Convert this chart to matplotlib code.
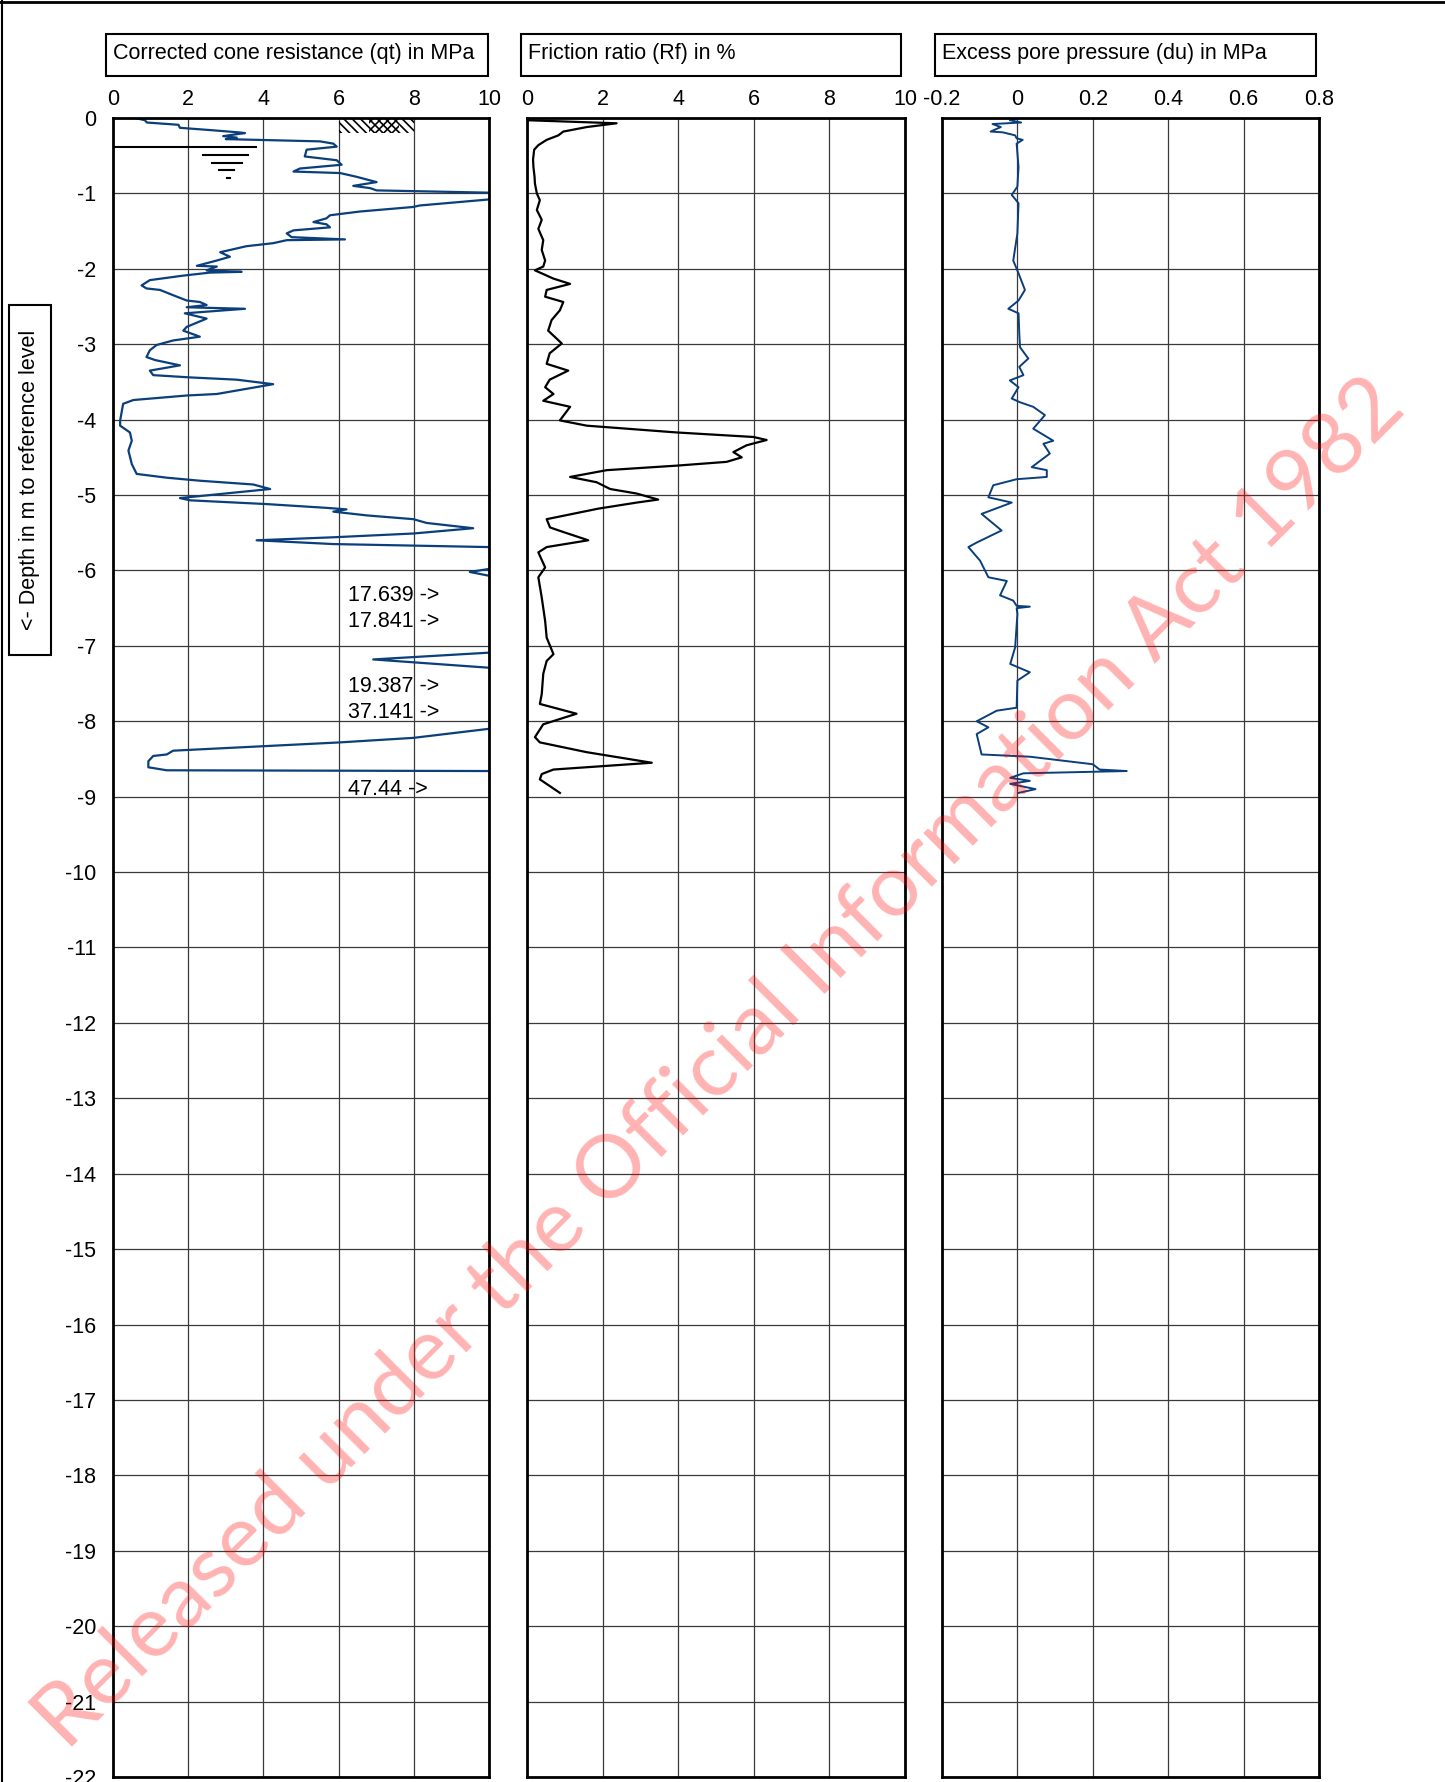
import matplotlib
matplotlib.use("Agg")
import matplotlib.pyplot as plt
from matplotlib.patches import Rectangle
from matplotlib.lines import Line2D

plt.rcParams['font.family'] = ['Liberation Sans', 'DejaVu Sans']
plt.rcParams['axes.unicode_minus'] = False
plt.rcParams['hatch.linewidth'] = 1.2

# ---------------- data ----------------
titles = ["Corrected cone resistance (qt) in MPa",
          "Friction ratio (Rf) in %",
          "Excess pore pressure (du) in MPa"]
ylabel = "<- Depth in m to reference level"
depth_ticks = list(range(0, -23, -1))
qt_ticks = [0, 2, 4, 6, 8, 10]
rf_ticks = [0, 2, 4, 6, 8, 10]
du_ticks = [-0.2, 0, 0.2, 0.4, 0.6, 0.8]
du_ticklabels = ["-0.2", "0", "0.2", "0.4", "0.6", "0.8"]

# corrected cone resistance qt (MPa) vs level (m)
qt_level = [0, -0.03, -0.06, -0.09, -0.13, -0.16, -0.19, -0.20, -0.24, -0.26,
            -0.28, -0.30, -0.31, -0.34, -0.38, -0.42, -0.51, -0.56, -0.62, -0.67,
            -0.71, -0.73, -0.78, -0.85, -0.90, -0.93, -0.96, -0.99, -1.03, -1.08,
            -1.16, -1.18, -1.24, -1.29, -1.33, -1.38, -1.41, -1.45, -1.49, -1.53,
            -1.58, -1.61, -1.62, -1.66, -1.70, -1.78, -1.84, -1.89, -1.96, -1.97,
            -2.02, -2.04, -2.05, -2.09, -2.15, -2.22, -2.26, -2.28, -2.35, -2.42,
            -2.44, -2.48, -2.51, -2.53, -2.59, -2.66, -2.77, -2.82, -2.90, -2.95,
            -3.01, -3.08, -3.17, -3.21, -3.28, -3.35, -3.41, -3.44, -3.47, -3.53,
            -3.66, -3.68, -3.74, -3.79, -4.01, -4.08, -4.17, -4.28, -4.41, -4.59,
            -4.72, -4.77, -4.81, -4.86, -4.92, -5.04, -5.07, -5.12, -5.17, -5.19,
            -5.22, -5.27, -5.32, -5.37, -5.44, -5.51, -5.56, -5.60, -5.65, -5.69,
            -5.85, -5.98, -6.02, -6.07, -6.50, -7.09, -7.18, -7.29, -7.60, -7.85,
            -8.10, -8.22, -8.28, -8.39, -8.44, -8.46, -8.53, -8.61, -8.65, -8.66,
            -8.80, -8.95]
qt_value = [0.59, 0.85, 0.90, 1.74, 1.78, 2.58, 3.33, 3.51, 2.93, 3.29,
            3.00, 4.62, 5.51, 5.86, 5.95, 5.15, 5.10, 5.95, 6.08, 4.97,
            4.80, 6.04, 6.48, 7.01, 6.39, 6.84, 7.01, 9.98, 10.6, 10.0,
            8.16, 7.98, 6.57, 5.77, 5.68, 5.33, 5.68, 5.77, 4.80, 4.62,
            4.75, 6.17, 4.62, 4.26, 3.55, 2.85, 3.11, 2.76, 2.23, 2.76,
            2.49, 3.42, 2.58, 1.87, 0.98, 0.76, 0.89, 1.25, 1.60, 1.96,
            2.31, 2.49, 1.96, 3.51, 1.91, 2.49, 1.96, 1.87, 2.31, 1.60,
            1.16, 0.98, 0.89, 1.12, 1.78, 0.98, 1.07, 2.05, 3.29, 4.26,
            2.76, 1.96, 0.54, 0.27, 0.19, 0.19, 0.45, 0.50, 0.41, 0.50,
            0.63, 1.43, 2.31, 3.73, 4.18, 1.78, 2.05, 4.09, 5.68, 6.21,
            5.86, 6.75, 7.99, 8.34, 9.58, 7.99, 5.86, 3.82, 5.86, 10.0,
            17.639, 10.0, 9.49, 10.0, 17.841, 10.0, 6.92, 10.0, 19.387, 37.141,
            10.0, 7.99, 6.04, 1.60, 1.43, 1.07, 0.94, 0.94, 1.43, 10.0,
            47.44, 30.0]

# off-scale maxima notes
note_level = [-6.33, -6.68, -7.54, -7.88, -8.91]
note_text = ["17.639 ->", "17.841 ->", "19.387 ->", "37.141 ->", "47.44 ->"]

# friction ratio Rf (%)
rf_level = [-0.03, -0.07, -0.12, -0.18, -0.23, -0.29, -0.36, -0.42, -0.55, -0.65,
            -0.78, -0.87, -1.00, -1.09, -1.22, -1.35, -1.47, -1.62, -1.75, -1.89,
            -1.97, -2.02, -2.13, -2.20, -2.28, -2.37, -2.44, -2.55, -2.68, -2.82,
            -2.99, -3.12, -3.26, -3.35, -3.47, -3.57, -3.66, -3.75, -3.83, -4.01,
            -4.08, -4.17, -4.23, -4.27, -4.34, -4.43, -4.50, -4.56, -4.61, -4.67,
            -4.76, -4.83, -4.92, -4.98, -5.06, -5.10, -5.18, -5.32, -5.43, -5.49,
            -5.60, -5.69, -5.76, -5.96, -6.09, -6.36, -6.67, -6.89, -7.11, -7.20,
            -7.37, -7.64, -7.77, -7.90, -8.04, -8.21, -8.28, -8.41, -8.55, -8.64,
            -8.70, -8.77, -8.95]
rf_value = [0.04, 2.37, 1.58, 0.96, 0.83, 0.52, 0.30, 0.19, 0.16, 0.17,
            0.20, 0.21, 0.26, 0.34, 0.26, 0.39, 0.30, 0.43, 0.39, 0.48,
            0.43, 0.21, 0.70, 1.14, 0.52, 0.48, 0.96, 0.87, 0.65, 0.56,
            0.92, 0.60, 0.52, 1.09, 0.60, 0.48, 0.70, 0.43, 1.14, 0.87,
            1.58, 3.96, 5.99, 6.34, 5.81, 5.46, 5.68, 5.28, 3.96, 2.11,
            1.14, 1.84, 2.20, 2.90, 3.47, 2.90, 1.89, 0.52, 0.61, 0.96,
            1.62, 0.52, 0.30, 0.48, 0.30, 0.39, 0.48, 0.52, 0.70, 0.52,
            0.43, 0.39, 0.34, 1.31, 0.43, 0.21, 0.34, 1.58, 3.30, 0.70,
            0.39, 0.34, 0.87]

# excess pore pressure du (MPa)
du_level = [0, -0.03, -0.06, -0.08, -0.12, -0.18, -0.19, -0.23, -0.27, -0.29,
            -0.34, -0.65, -0.91, -1.02, -1.13, -1.53, -1.89, -2.06, -2.28, -2.42,
            -2.53, -2.59, -2.86, -3.04, -3.19, -3.30, -3.41, -3.48, -3.57, -3.72,
            -3.77, -3.83, -3.94, -4.12, -4.28, -4.32, -4.45, -4.63, -4.67, -4.76,
            -4.79, -4.87, -5.03, -5.10, -5.25, -5.47, -5.63, -5.69, -5.87, -6.09,
            -6.14, -6.33, -6.40, -6.47, -6.48, -6.50, -6.58, -7.02, -7.24, -7.35,
            -7.46, -7.82, -7.86, -8.00, -8.08, -8.17, -8.44, -8.47, -8.57, -8.64,
            -8.66, -8.69, -8.75, -8.79, -8.83, -8.90, -8.95]
du_value = [0.003, -0.020, 0.010, -0.066, -0.044, -0.071, -0.039, -0.006, -0.002, 0.014,
            -0.002, 0.003, 0.000, -0.015, 0.003, 0.000, -0.011, 0.003, 0.020, 0.003,
            -0.024, 0.003, 0.005, 0.007, 0.029, 0.005, 0.016, -0.020, 0.003, -0.015,
            0.007, 0.042, 0.073, 0.042, 0.095, 0.069, 0.086, 0.038, 0.078, 0.078,
            -0.002, -0.064, -0.077, -0.015, -0.095, -0.042, -0.108, -0.130, -0.099, -0.077,
            -0.028, -0.046, -0.011, -0.002, 0.033, -0.002, 0.000, -0.006, -0.019, 0.033,
            0.000, -0.002, -0.055, -0.108, -0.077, -0.108, -0.095, 0.033, 0.200, 0.218,
            0.290, 0.016, -0.019, 0.033, -0.019, 0.048, 0.003]

assert len(qt_level) == len(qt_value)
assert len(rf_level) == len(rf_value)
assert len(du_level) == len(du_value)

# ---------------- figure ----------------
W, H = 1445, 1782
fig = plt.figure(figsize=(W / 100, H / 100), dpi=100)
FS = 15.5


def fx(px):
    return px / W


def fy(py):
    return 1 - py / H


top, bot = 118, 1777
panels = [(113, 489), (527, 905), (942, 1319)]
xlims = [(0, 10), (0, 10), (-0.2, 0.8)]
xticks = [qt_ticks, rf_ticks, du_ticks]
boxes = [(106, 488), (521, 901), (935, 1316)]
axes = []
for i, (l, r) in enumerate(panels):
    ax = fig.add_axes([fx(l), fy(bot), (r - l) / W, (bot - top) / H])
    ax.set_xlim(*xlims[i])
    ax.set_ylim(-22, 0)
    ax.set_yticks(depth_ticks)
    ax.set_xticks(xticks[i])
    ax.xaxis.tick_top()
    ax.tick_params(axis='both', length=0, labelsize=FS)
    ax.tick_params(axis='x', pad=6)
    ax.tick_params(axis='y', pad=12)
    if i > 0:
        ax.tick_params(axis='y', labelleft=False)
    ax.grid(True, color='#3a3a3a', lw=0.9)
    ax.set_axisbelow(True)
    for s in ax.spines.values():
        s.set_linewidth(2.0)
        s.set_color('black')
    axes.append(ax)
    bl, br = boxes[i]
    fig.patches.append(Rectangle((fx(bl), fy(76)), (br - bl) / W, 42 / H,
                                 transform=fig.transFigure, fill=False,
                                 ec='black', lw=1.5))
    fig.text(fx(bl + 7), fy(54), titles[i], fontsize=FS, ha='left', va='center')

axes[2].set_xticklabels(du_ticklabels)

ax1, ax2, ax3 = axes
blue = '#0a3f7c'
ax1.plot(qt_value, qt_level, color=blue, lw=1.6)
ax2.plot(rf_value, rf_level, color='black', lw=1.6)
ax3.plot(du_value, du_level, color=blue, lw=1.4)

# hatch at surface
ax1.add_patch(Rectangle((6.0, -0.2), 2.0, 0.2, fill=False, hatch='\\\\\\\\',
                        ec='black', lw=0))
ax1.add_patch(Rectangle((6.8, -0.2), 0.8, 0.2, fill=False, hatch='////',
                        ec='black', lw=0))

# ground water symbol
ax1.plot([0, 3.8], [-0.39, -0.39], color='black', lw=1.5)
for (x0, x1, y) in [(2.4, 3.6, -0.49), (2.62, 3.42, -0.594),
                    (2.82, 3.22, -0.695), (3.02, 3.1, -0.797)]:
    ax1.plot([x0, x1], [y, y], color='black', lw=1.5)

for lv, tx in zip(note_level, note_text):
    ax1.text(6.25, lv, tx, fontsize=FS, va='center', ha='left')

# y label box
fig.patches.append(Rectangle((fx(9), fy(655)), 42 / W, 350 / H,
                             transform=fig.transFigure, fill=False,
                             ec='black', lw=1.5))
fig.text(fx(30), fy(480), ylabel, rotation=90, fontsize=FS,
         ha='center', va='center')

# page border (top and left)
fig.add_artist(Line2D([0, 1], [fy(2), fy(2)], transform=fig.transFigure,
                      color='black', lw=2))
fig.add_artist(Line2D([fx(1.5), fx(1.5)], [0, 1], transform=fig.transFigure,
                      color='black', lw=1.5))

# watermark
fig.text(fx(720), fy(1064), "Released under the Official Information Act 1982",
         rotation=45, rotation_mode='anchor', ha='center', va='center',
         color='red', alpha=0.3, fontsize=63, family=['Lato', 'DejaVu Sans'])

fig.savefig("out.png", dpi=100)
